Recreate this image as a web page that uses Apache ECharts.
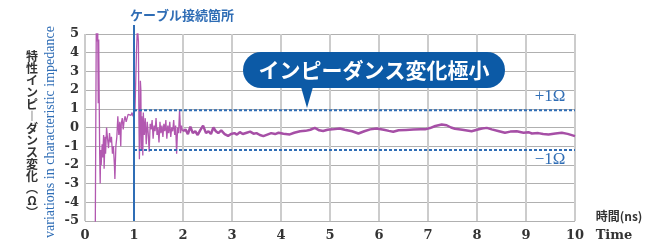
<!DOCTYPE html>
<html>
<head>
<meta charset="utf-8">
<script src="https://cdn.jsdelivr.net/npm/echarts@6/dist/echarts.min.js"></script>
<style>
  html, body { margin: 0; padding: 0; background: #fff; }
  #chart { width: 646px; height: 242px; }
</style>
</head>
<body>
<div id="chart"></div>
<script>
// 0〜2ns 付近の細い波形
const timeEarly = [0.21, 0.23, 0.25, 0.26, 0.27, 0.28, 0.29, 0.30, 0.31, 0.32, 0.33, 0.35, 0.36, 0.38, 0.39,
  0.41, 0.42, 0.44, 0.46, 0.48, 0.50, 0.52, 0.54, 0.56, 0.58, 0.60, 0.61, 0.63, 0.65, 0.67, 0.69, 0.71,
  0.73, 0.74, 0.76, 0.78, 0.80, 0.82, 0.84, 0.86, 0.88, 0.90, 0.92, 0.94, 0.96, 0.98, 1.00, 1.02, 1.05,
  1.07, 1.09, 1.10, 1.11, 1.12, 1.13, 1.14, 1.15, 1.16, 1.18, 1.19, 1.21, 1.23, 1.25, 1.27, 1.29, 1.31,
  1.33, 1.35, 1.37, 1.39, 1.41, 1.43, 1.45, 1.47, 1.49, 1.51, 1.53, 1.55, 1.57, 1.59, 1.61, 1.63, 1.65,
  1.67, 1.69, 1.71, 1.73, 1.75, 1.77, 1.79, 1.81, 1.83, 1.85, 1.87, 1.89, 1.91, 1.93, 1.95, 1.97, 1.99]
const valueEarly = [-5.4, 5.4, 4.6, 5.2, 1.3, 4.7, 1.5, -1.5, -3.0, -1.2, -2.0, -0.9, -1.6, -0.4, -2.2,
  -0.5, -1.4, 0.0, -0.6, -1.1, -0.3, -0.8, -0.5, -1.4, -1.0, -2.0, -2.75, -1.0, -0.5, 0.6, -0.4, 0.3,
  -1.0, 0.2, 0.5, -0.1, 0.4, 0.6, 0.3, 0.5, 0.7, 0.6, 0.75, 0.65, 0.8, 0.6, 0.7, 0.9, 4.0,
  5.4, 4.6, 0.5, -1.7, -0.5, 2.5, 2.0, -1.2, 0.6, -1.5, 0.8, -0.4, 0.5, -0.9, 0.3, -0.3, -1.3,
  0.2, -0.1, 0.4, -0.6, 0.1, -0.2, 0.5, -0.4, 0.0, -0.8, 0.3, -0.3, 0.1, -0.5, 0.2, -0.2, 0.4,
  -0.6, 0.1, -0.3, 0.3, -0.5, 0.0, -0.2, 0.4, -0.4, 0.1, -1.4, 0.0, -0.3, 0.95, -0.3, 0.1, -0.2]

// 2ns 以降の太い波形
const timeLate = [2.0, 2.05, 2.1, 2.15, 2.2, 2.25, 2.3, 2.35, 2.41, 2.47, 2.52, 2.57, 2.62, 2.67, 2.72,
  2.78, 2.85, 2.92, 2.98, 3.05, 3.1, 3.16, 3.22, 3.3, 3.37, 3.44, 3.5, 3.57, 3.64, 3.72, 3.8, 3.88,
  3.95, 4.05, 4.18, 4.27, 4.39, 4.5, 4.6, 4.69, 4.78, 4.86, 4.95, 5.05, 5.2, 5.3, 5.45, 5.58, 5.7,
  5.82, 5.95, 6.1, 6.2, 6.29, 6.4, 6.55, 6.7, 6.85, 6.94, 7.04, 7.15, 7.28, 7.38, 7.47, 7.55, 7.7,
  7.89, 8.0, 8.1, 8.2, 8.3, 8.45, 8.57, 8.68, 8.81, 8.95, 9.05, 9.12, 9.25, 9.35, 9.46, 9.6, 9.73,
  9.85, 10.0]
const valueLate = [-0.2, -0.1, -0.35, 0.05, -0.3, -0.2, -0.4, -0.15, 0.1, -0.3, -0.2, -0.35, 0.0, -0.2, -0.3,
  -0.15, -0.35, -0.45, -0.35, -0.3, -0.38, -0.25, -0.35, -0.28, -0.22, -0.33, -0.3, -0.4, -0.46, -0.38, -0.3, -0.35,
  -0.28, -0.33, -0.37, -0.28, -0.2, -0.18, -0.12, -0.02, -0.15, -0.19, -0.12, -0.1, -0.05, -0.12, -0.2, -0.32, -0.2,
  -0.1, -0.05, -0.12, -0.18, -0.23, -0.15, -0.13, -0.11, -0.1, -0.1, -0.03, 0.08, 0.16, 0.12, 0.0, -0.07, -0.12,
  -0.2, -0.12, -0.05, -0.02, -0.1, -0.2, -0.28, -0.22, -0.2, -0.28, -0.25, -0.32, -0.3, -0.35, -0.37, -0.32, -0.28,
  -0.34, -0.46]

// 許容範囲の破線 (+1Ω / -1Ω) とケーブル接続箇所
const bandTime = [1, 10]
const bandUpper = 0.92
const bandLower = -1.2
const cableTime = 1

const xTicks = [0, 1, 2, 3, 4, 5, 6, 7, 8, 9, 10]

const blue = '#2f6db5'
const purple = '#a64fa6'
const labelFont = 'DejaVu Serif'

const myChart = echarts.init(document.getElementById('chart'))

const option = {
  animation: false,
  grid: { left: 85, right: 71, top: 34, bottom: 20 },
  xAxis: {
    type: 'value',
    min: 0,
    max: 10,
    interval: 1,
    axisLine: { show: false },
    axisTick: { show: false },
    axisLabel: {
      color: '#333',
      fontFamily: labelFont,
      fontWeight: 'bold',
      fontSize: 13,
      margin: 8,
      formatter: v => xTicks.includes(v) ? String(v) : ''
    },
    splitLine: { show: true, lineStyle: { color: '#cccccc', width: 2 } }
  },
  yAxis: {
    type: 'value',
    min: -5,
    max: 5,
    interval: 1,
    axisLine: { show: false },
    axisTick: { show: false },
    axisLabel: {
      color: '#333',
      fontFamily: labelFont,
      fontWeight: 'bold',
      fontSize: 13,
      margin: 6
    },
    splitLine: { show: true, lineStyle: { color: '#b0b0b0', width: 1 } }
  },
  series: [
    {
      type: 'line',
      name: 'early',
      showSymbol: false,
      data: timeEarly.map((t, i) => [t, valueEarly[i]]),
      lineStyle: { color: '#b258b0', width: 1.3 },
      z: 3
    },
    {
      type: 'line',
      name: 'late',
      showSymbol: false,
      data: timeLate.map((t, i) => [t, valueLate[i]]),
      lineStyle: { color: purple, width: 2.5 },
      z: 3
    },
    {
      type: 'line',
      name: 'upper',
      showSymbol: false,
      data: bandTime.map(t => [t, bandUpper]),
      lineStyle: { color: blue, width: 2, type: [3, 2] },
      z: 4
    },
    {
      type: 'line',
      name: 'lower',
      showSymbol: false,
      data: bandTime.map(t => [t, bandLower]),
      lineStyle: { color: blue, width: 2, type: [3, 2] },
      z: 4
    }
  ]
}
myChart.setOption(option)

// 接続箇所の縦線と注記
const cableTop = myChart.convertToPixel({ gridIndex: 0 }, [cableTime, 5])
const cableBottom = myChart.convertToPixel({ gridIndex: 0 }, [cableTime, -5])

myChart.setOption({
  graphic: [
    {
      type: 'line',
      shape: { x1: cableTop[0], y1: 25, x2: cableBottom[0], y2: cableBottom[1] },
      style: { stroke: blue, lineWidth: 2 },
      z: 10
    },
    {
      type: 'text',
      left: 130, top: 9,
      style: { text: 'ケーブル接続箇所', fill: blue, font: 'bold 13px "Noto Sans CJK JP"' }
    },
    {
      type: 'rect',
      shape: { x: 243, y: 52, width: 262, height: 36, r: 18 },
      style: { fill: '#0c5aa6' },
      z: 20
    },
    {
      type: 'polygon',
      shape: { points: [[301, 87], [313, 87], [307, 108]] },
      style: { fill: '#0c5aa6' },
      z: 20
    },
    {
      type: 'text',
      x: 374, y: 70,
      style: {
        text: 'インピーダンス変化極小', fill: '#fff',
        font: 'bold 21px "Noto Sans CJK JP"', align: 'center', verticalAlign: 'middle'
      },
      z: 21
    },
    {
      type: 'text',
      x: 550, y: 97,
      style: { text: '+1Ω', fill: blue, font: '17px "Liberation Serif"', align: 'center', verticalAlign: 'middle' }
    },
    {
      type: 'text',
      x: 550, y: 160,
      style: { text: '−1Ω', fill: blue, font: '17px "Liberation Serif"', align: 'center', verticalAlign: 'middle' }
    },
    {
      type: 'text',
      x: 32, y: 134,
      style: {
        text: ['特', '性', 'イ', 'ン', 'ピ', '︱', 'ダ', 'ン', 'ス', '変', '化', '︵', 'Ω', '︶'].join('\n'),
        fill: '#333', font: 'bold 12px "Noto Sans CJK JP"', lineHeight: 12,
        align: 'center', verticalAlign: 'middle'
      }
    },
    {
      type: 'text',
      x: 50, y: 132,
      rotation: Math.PI / 2,
      style: {
        text: 'variations in characteristic impedance', fill: blue,
        font: '14px "Liberation Serif"', align: 'center', verticalAlign: 'middle'
      }
    },
    {
      type: 'text',
      x: 619, y: 216,
      style: { text: '時間(ns)', fill: '#333', font: 'bold 12px "Noto Sans CJK JP"', align: 'center', verticalAlign: 'middle' }
    },
    {
      type: 'text',
      x: 614, y: 236,
      style: { text: 'Time', fill: '#333', font: 'bold 13px "DejaVu Serif"', align: 'center', verticalAlign: 'middle' }
    }
  ]
})

window.addEventListener('resize', function() {
  myChart.resize()
})
</script>
</body>
</html>
